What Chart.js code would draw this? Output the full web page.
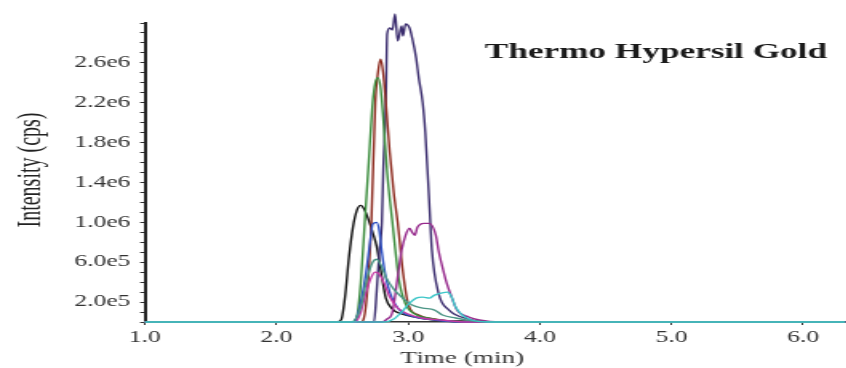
<!DOCTYPE html>
<html>
<head>
<meta charset="utf-8">
<title>Thermo Hypersil Gold</title>
<script src="https://cdn.jsdelivr.net/npm/chart.js@4.4.1/dist/chart.umd.min.js"></script>
<style>
  html, body { margin: 0; padding: 0; background: #fff; overflow: hidden; }
  /* the original picture is stretched sideways, so the chart is drawn narrow and scaled */
  #wrap { width: 529px; height: 368px; transform: scaleX(1.6); transform-origin: 0 0; }
</style>
</head>
<body>
<div id="wrap"><canvas id="myChart"></canvas></div>
<script>
// tempi (min) e intensita (x 1e6 cps)
var blackT = [1.0, 2.45, 2.49, 2.52, 2.55, 2.58, 2.61, 2.64, 2.67, 2.70, 2.73, 2.76, 2.80, 2.83, 2.88, 2.95, 3.05, 3.2, 3.4, 3.7, 6.32];
var blackI = [0, 0, 0.02, 0.25, 0.65, 0.95, 1.12, 1.17, 1.12, 1.02, 0.9, 0.76, 0.45, 0.24, 0.13, 0.08, 0.05, 0.02, 0.01, 0, 0];

var blueT = [1.0, 2.58, 2.61, 2.64, 2.68, 2.71, 2.73, 2.76, 2.78, 2.80, 2.83, 2.86, 2.90, 2.95, 3.05, 3.2, 3.4, 6.32];
var blueI = [0, 0, 0.05, 0.2, 0.5, 0.8, 0.98, 1.0, 0.92, 0.7, 0.45, 0.3, 0.18, 0.1, 0.05, 0.02, 0, 0];

var greenT = [1.0, 2.58, 2.61, 2.64, 2.67, 2.70, 2.73, 2.75, 2.77, 2.79, 2.81, 2.84, 2.88, 2.93, 2.98, 3.05, 3.15, 3.3, 3.5, 6.32];
var greenI = [0, 0, 0.05, 0.4, 1.0, 1.6, 2.2, 2.4, 2.45, 2.35, 2.05, 1.5, 1.0, 0.42, 0.18, 0.08, 0.04, 0.01, 0, 0];

var brownT = [1.0, 2.64, 2.67, 2.70, 2.72, 2.75, 2.77, 2.79, 2.81, 2.83, 2.86, 2.89, 2.92, 2.96, 3.0, 3.08, 3.2, 3.4, 6.32];
var brownI = [0, 0, 0.08, 0.5, 1.0, 2.2, 2.5, 2.64, 2.5, 2.2, 1.7, 1.3, 1.0, 0.5, 0.18, 0.07, 0.03, 0, 0];

var indigoT = [1.0, 2.74, 2.76, 2.78, 2.80, 2.81, 2.83, 2.84, 2.86, 2.88, 2.90, 2.92, 2.95, 2.96, 2.98, 3.01, 3.03, 3.06, 3.08, 3.11, 3.13, 3.16, 3.18, 3.23, 3.31, 3.46, 3.6, 6.32];
var indigoI = [0, 0, 0.3, 0.7, 1.0, 1.5, 2.2, 2.89, 2.95, 2.93, 3.09, 2.82, 2.97, 2.87, 2.99, 2.95, 2.85, 2.65, 2.45, 2.2, 1.9, 1.2, 0.72, 0.29, 0.12, 0.03, 0, 0];

var magentaT = [1.0, 2.80, 2.84, 2.88, 2.92, 2.95, 2.98, 3.01, 3.03, 3.05, 3.07, 3.12, 3.16, 3.21, 3.23, 3.26, 3.29, 3.33, 3.37, 3.46, 3.54, 3.7, 6.32];
var magentaI = [0, 0, 0.03, 0.1, 0.45, 0.72, 0.87, 0.94, 0.9, 0.87, 0.95, 0.99, 0.99, 0.87, 0.72, 0.55, 0.4, 0.25, 0.12, 0.05, 0.02, 0, 0];

var tealT = [1.0, 2.57, 2.60, 2.64, 2.69, 2.73, 2.76, 2.80, 2.83, 2.89, 2.95, 3.03, 3.11, 3.2, 3.26, 3.36, 3.5, 3.7, 6.32];
var tealI = [0, 0, 0.03, 0.15, 0.45, 0.6, 0.63, 0.55, 0.45, 0.33, 0.25, 0.17, 0.14, 0.12, 0.07, 0.04, 0.01, 0, 0];

var pinkT = [1.0, 2.60, 2.64, 2.68, 2.72, 2.75, 2.78, 2.82, 2.86, 2.92, 3.0, 3.1, 3.25, 3.45, 6.32];
var pinkI = [0, 0, 0.1, 0.3, 0.45, 0.5, 0.48, 0.38, 0.25, 0.14, 0.08, 0.04, 0.02, 0, 0];

var cyanT = [1.0, 2.82, 2.89, 2.95, 3.01, 3.06, 3.11, 3.16, 3.2, 3.25, 3.30, 3.33, 3.36, 3.41, 3.48, 3.6, 6.32];
var cyanI = [0, 0, 0.03, 0.1, 0.19, 0.24, 0.25, 0.24, 0.27, 0.29, 0.3, 0.25, 0.15, 0.07, 0.02, 0, 0];

// etichette degli assi
var yLabelled = [0.2, 0.6, 1.0, 1.4, 1.8, 2.2, 2.6];
var xTitle = "Time (min)";
var yTitle = "Intensity (cps)";
var chartTitle = "Thermo Hypersil Gold";

function serie(t, v, colore) {
  var punti = [];
  for (var i = 0; i < t.length; i++) {
    punti.push({ x: t[i], y: v[i] });
  }
  return { data: punti, borderColor: colore };
}

// scritte disegnate a mano (titolo e nomi degli assi)
var scritte = {
  id: "scritte",
  afterDraw: function(chart) {
    var ctx = chart.ctx;
    ctx.save();
    ctx.fillStyle = "#1a1a1a";
    ctx.textAlign = "center";
    ctx.textBaseline = "middle";

    ctx.font = "bold 22px 'Liberation Serif'";
    ctx.fillText(chartTitle, 410, 52);

    ctx.fillStyle = "#333";
    ctx.font = "17px 'Liberation Serif'";
    ctx.fillText(xTitle, 289, 359);

    ctx.translate(20, 170);
    ctx.rotate(-Math.PI / 2);
    ctx.fillStyle = "#222";
    ctx.font = "20px 'Liberation Serif'";
    ctx.fillText(yTitle, 0, 0);
    ctx.restore();
  }
};

var grafico = new Chart(document.getElementById("myChart"), {
  type: "line",
  data: {
    datasets: [
      serie(cyanT, cyanI, "#3cc6c8"),
      serie(tealT, tealI, "#4b9585"),
      serie(pinkT, pinkI, "#c43aa4"),
      serie(magentaT, magentaI, "#962a8c"),
      serie(blueT, blueI, "#2f52c4"),
      serie(greenT, greenI, "#3a8c3c"),
      serie(brownT, brownI, "#8c2a1e"),
      serie(indigoT, indigoI, "#3b2d6e"),
      serie(blackT, blackI, "#111111")
    ]
  },
  options: {
    responsive: true,
    maintainAspectRatio: false,
    animation: false,
    layout: { padding: { top: 23, right: 0, bottom: 0, left: 0 } },
    datasets: {
      line: {
        borderWidth: 1.4,
        pointRadius: 0,
        fill: false,
        clip: false,
        cubicInterpolationMode: "monotone"
      }
    },
    plugins: {
      legend: { display: false },
      tooltip: { enabled: false }
    },
    scales: {
      x: {
        type: "linear",
        min: 1.0,
        max: 6.32,
        afterFit: function(scale) { scale.height = 46; },
        border: { display: true, color: "#333", width: 1.5 },
        grid: { drawOnChartArea: false, drawTicks: true, tickLength: 3, color: "#333" },
        ticks: {
          stepSize: 1,
          includeBounds: false,
          padding: 3,
          color: "#333",
          font: { family: "'Liberation Serif'", size: 16 },
          callback: function(v) { return v.toFixed(1); }
        }
      },
      y: {
        min: 0,
        max: 3.0,
        afterFit: function(scale) { scale.width = 90.6; },
        border: { display: true, color: "#222", width: 2 },
        grid: { drawOnChartArea: false, drawTicks: true, tickLength: 3, color: "#333" },
        ticks: {
          stepSize: 0.1,
          autoSkip: false,
          padding: 6,
          color: "#333",
          font: { family: "'Liberation Serif'", size: 16 },
          callback: function(v) {
            var k = Math.round(v * 10);
            var trovato = false;
            for (var i = 0; i < yLabelled.length; i++) {
              if (Math.round(yLabelled[i] * 10) == k) trovato = true;
            }
            if (!trovato) return "";
            if (k >= 10) return (k / 10).toFixed(1) + "e6";
            return k.toFixed(1) + "e5";
          }
        }
      }
    }
  },
  plugins: [scritte]
});
</script>
</body>
</html>
